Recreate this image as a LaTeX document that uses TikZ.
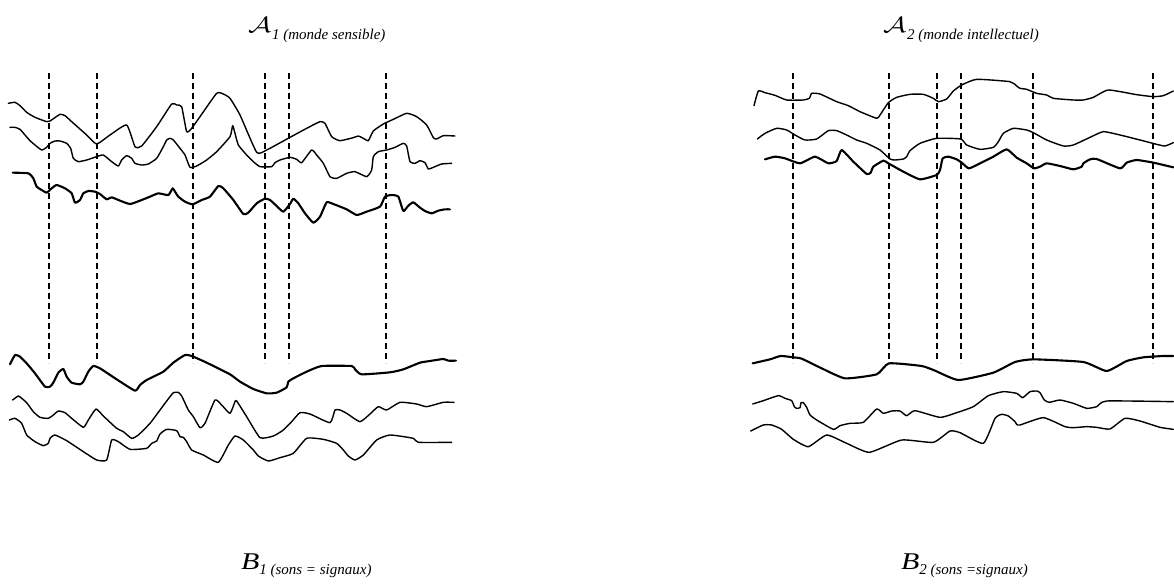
\documentclass[tikz,border=0pt]{standalone}
\usepackage{fontspec}
\setmainfont{Liberation Serif}
\usetikzlibrary{calc}
\begin{document}
\begin{tikzpicture}[x=1pt,y=-1pt,
  thin curve/.style={line width=1.4pt,line join=round,line cap=round},
  thick curve/.style={line width=2.1pt,line join=round,line cap=round},
  divider/.style={line width=1.4pt,dash pattern=on 6pt off 4pt},
  zoomed/.style={x=0.333333pt,y=-0.333333pt},
  biglabel/.style={anchor=base west,inner sep=0pt,outer sep=0pt},
  sublabel/.style={anchor=base west,inner sep=0pt,outer sep=0pt,font=\fontsize{15}{15}\selectfont\itshape}]
\useasboundingbox (0,0) rectangle (1174,583);

% ---------- dashed dividers ----------
\foreach \xx [count=\i] in {49,97,193,265,289,386}{
  \coordinate (lt\i) at (\xx,73);
  \coordinate (lb\i) at (\xx,363);
  \draw[divider] (lt\i) -- (lb\i);
}
\foreach \xx [count=\i] in {793,889,937,961,1033,1153}{
  \coordinate (rt\i) at (\xx,73);
  \coordinate (rb\i) at (\xx,363);
  \draw[divider] (rt\i) -- (rb\i);
}

% ---------- left, upper curves ----------
\begin{scope}[xshift=0pt,yshift=-60pt,zoomed]
\draw[thin curve] plot[smooth,tension=0.3] coordinates {(25,130) (45,127) (60,137) (80,157) (105,172) (140,185) (150,183) (180,163) (195,167) (215,185) (260,225) (290,252) (330,225) (380,195) (405,260) (425,258) (470,200) (515,132) (530,135) (545,140) (560,215) (575,205) (600,170) (650,100) (670,102) (690,115) (720,165) (770,277) (800,270) (870,232) (920,205) (960,185) (975,190) (995,230) (1020,242) (1060,233) (1075,228) (1090,235) (1105,242) (1120,213) (1150,192) (1180,178) (1220,160) (1250,170) (1280,195) (1300,233) (1310,237) (1330,227) (1365,228)};
\draw[thin curve] plot[smooth,tension=0.3] coordinates {(30,202) (45,202) (60,208) (75,225) (90,242) (105,255) (125,270) (140,262) (150,250) (165,243) (180,243) (200,250) (212,265) (220,295) (235,305) (260,300) (290,290) (310,285) (335,305) (355,318) (365,300) (380,287) (395,295) (405,310) (425,315) (445,312) (470,295) (490,260) (500,240) (510,235) (520,240) (540,265) (555,285) (570,322) (590,318) (620,300) (650,275) (690,230) (698,197) (705,220) (715,255) (740,285) (760,305) (780,320) (815,320) (825,308) (840,300) (870,292) (890,298) (905,308) (935,270) (950,285) (970,310) (990,350) (1010,355) (1040,340) (1065,335) (1100,350) (1115,330) (1120,290) (1135,275) (1160,270) (1185,262) (1210,250) (1220,258) (1230,305) (1245,310) (1260,302) (1275,308) (1285,327) (1300,322) (1325,312) (1355,310)};
\draw[thick curve] plot[smooth,tension=0.3] coordinates {(38,338) (85,340) (100,355) (110,380) (125,390) (140,398) (155,385) (170,375) (195,385) (215,400) (225,428) (240,420) (250,400) (265,393) (285,395) (300,402) (320,418) (335,412) (360,422) (390,432) (420,422) (450,410) (475,400) (505,405) (518,385) (525,395) (535,410) (555,425) (578,433) (605,420) (630,410) (655,378) (670,385) (700,420) (730,462) (745,458) (770,430) (795,416) (810,420) (830,438) (850,455) (870,432) (880,416) (895,430) (915,460) (940,488) (960,470) (980,427) (1000,432) (1040,448) (1070,465) (1100,455) (1140,440) (1155,410) (1175,405) (1195,410) (1210,453) (1225,437) (1240,427) (1260,443) (1275,453) (1295,460) (1315,452) (1335,448) (1350,448)};
\end{scope}

% ---------- left, lower curves ----------
\begin{scope}[xshift=0pt,yshift=-330pt,zoomed]
\draw[thick curve] plot[smooth,tension=0.3] coordinates {(30,103) (45,75) (60,80) (80,100) (105,130) (135,170) (150,170) (160,158) (175,128) (190,117) (200,140) (215,158) (240,163) (250,155) (265,125) (280,108) (300,115) (350,148) (405,182) (420,165) (440,150) (490,125) (520,98) (555,75) (575,78) (620,98) (690,133) (720,155) (760,177) (800,190) (830,188) (860,172) (865,155) (880,145) (920,125) (965,108) (1055,108) (1065,118) (1085,133) (1170,127) (1210,118) (1260,98) (1290,93) (1330,87) (1345,92) (1368,92)};
\draw[thin curve] plot[smooth,tension=0.3] coordinates {(38,210) (55,198) (65,205) (80,218) (100,245) (120,262) (145,265) (160,255) (175,243) (195,248) (215,265) (250,292) (265,270) (288,237) (310,258) (350,295) (370,305) (395,325) (415,315) (450,280) (480,240) (510,200) (520,188) (535,187) (545,198) (565,240) (580,260) (600,293) (615,280) (645,210) (665,225) (690,250) (705,215) (710,213) (740,260) (780,323) (820,318) (850,300) (875,275) (900,248) (930,252) (990,278) (1005,240) (1020,240) (1040,250) (1080,275) (1110,252) (1135,230) (1160,240) (1200,217) (1250,222) (1280,230) (1330,217) (1362,217)};
\draw[thin curve] plot[smooth,tension=0.3] coordinates {(28,270) (45,265) (65,280) (80,315) (105,335) (130,347) (145,340) (150,325) (165,315) (200,332) (250,365) (290,390) (320,390) (335,330) (355,335) (390,358) (440,355) (455,340) (470,333) (480,312) (500,298) (530,302) (540,320) (550,322) (560,335) (575,360) (610,375) (655,397) (685,345) (705,318) (730,330) (760,360) (775,378) (805,393) (840,383) (880,370) (920,325) (970,328) (1010,340) (1030,360) (1045,378) (1065,390) (1090,375) (1130,330) (1170,315) (1240,325) (1255,337) (1355,337)};
\end{scope}

% ---------- right, upper curves ----------
\begin{scope}[xshift=740pt,yshift=-60pt,zoomed]
\draw[thin curve] plot[smooth,tension=0.3] coordinates {(42,137) (55,93) (75,98) (105,106) (140,120) (190,120) (208,115) (215,100) (240,102) (290,125) (325,137) (360,155) (410,175) (420,165) (445,128) (470,112) (510,103) (550,103) (580,115) (595,125) (620,117) (640,93) (665,75) (710,58) (810,65) (830,78) (840,85) (860,88) (890,100) (920,105) (940,115) (1000,120) (1030,120) (1060,112) (1105,90) (1190,104) (1240,110) (1270,107) (1300,93)};
\draw[thin curve] plot[smooth,tension=0.3] coordinates {(52,237) (75,220) (110,205) (140,210) (165,225) (195,240) (230,237) (265,212) (290,212) (320,225) (350,240) (380,250) (420,270) (450,297) (465,300) (490,297) (500,290) (510,272) (540,250) (590,235) (662,237) (680,255) (720,268) (760,262) (775,245) (790,220) (820,205) (860,210) (880,218) (920,240) (970,258) (1000,255) (1050,232) (1090,215) (1140,225) (1200,240) (1250,253) (1275,258) (1300,248)};
\draw[thick curve] plot[smooth,tension=0.3] coordinates {(75,298) (105,290) (135,295) (180,310) (225,290) (265,310) (290,303) (305,270) (340,305) (380,342) (392,338) (400,320) (430,302) (445,310) (490,335) (540,358) (590,345) (600,330) (608,295) (625,290) (650,298) (665,308) (685,325) (700,320) (730,305) (760,290) (800,268) (830,293) (860,310) (882,325) (900,320) (920,310) (960,318) (1000,328) (1025,320) (1030,310) (1050,298) (1070,297) (1140,325) (1160,308) (1190,300) (1240,308) (1300,322)};
\end{scope}

% ---------- right, lower curves ----------
\begin{scope}[xshift=740pt,yshift=-330pt,zoomed]
\draw[thick curve] plot[smooth,tension=0.3] coordinates {(38,100) (90,88) (122,78) (160,82) (185,86) (245,115) (315,145) (410,133) (447,100) (545,108) (585,122) (655,150) (760,128) (825,96) (880,88) (1030,96) (1100,123) (1160,93) (1210,82) (1270,78) (1300,78)};
\draw[thin curve] plot[smooth,tension=0.3] coordinates {(38,222) (70,212) (115,197) (135,205) (155,212) (163,230) (170,235) (180,233) (183,218) (190,218) (200,232) (210,255) (230,270) (280,298) (300,287) (330,280) (370,277) (410,237) (430,250) (455,243) (480,243) (500,257) (525,242) (600,262) (650,248) (700,230) (745,197) (790,185) (830,190) (848,203) (870,185) (890,183) (900,188) (913,210) (928,217) (960,210) (1000,220) (1040,235) (1070,230) (1100,213) (1300,215)};
\draw[thin curve] plot[smooth,tension=0.3] coordinates {(32,303) (70,285) (95,285) (125,298) (160,328) (205,350) (260,315) (320,340) (388,367) (485,330) (580,337) (630,303) (660,308) (730,340) (765,265) (785,253) (805,258) (825,275) (830,283) (840,285) (910,263) (975,290) (1000,293) (1040,290) (1070,292) (1110,297) (1155,265) (1200,273) (1260,292) (1300,298)};
\end{scope}

% ---------- labels ----------
\node[biglabel] (a1) at (248,33) {\scalebox{2.9}[2.2]{$\mathcal{A}$}};
\node[sublabel] (a1s) at ($(a1.base east)+(1,7)$) {1 (monde sensible)};
\node[biglabel] (a2) at (883,33) {\scalebox{2.9}[2.2]{$\mathcal{A}$}};
\node[sublabel] (a2s) at ($(a2.base east)+(1,7)$) {2 (monde intellectuel)};
\node[biglabel] (b1) at (241,569) {\scalebox{1.25}[1]{\fontsize{24}{24}\selectfont\itshape B}};
\node[sublabel] (b1s) at ($(b1.base east)+(0,5)$) {1 (sons = signaux)};
\node[biglabel] (b2) at (901,569) {\scalebox{1.25}[1]{\fontsize{24}{24}\selectfont\itshape B}};
\node[sublabel] (b2s) at ($(b2.base east)+(0,5)$) {2 (sons =signaux)};
\end{tikzpicture}
\end{document}
